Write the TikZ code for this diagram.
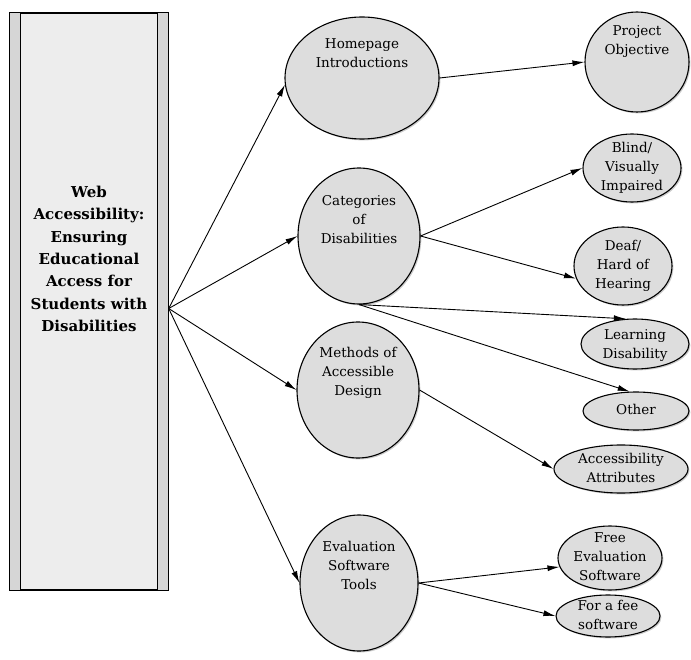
\documentclass[tikz,border=0pt]{standalone}
\usepackage{fontspec}
\setmainfont{DejaVu Serif}
\usetikzlibrary{shapes.geometric, arrows.meta, shadows, calc}

\begin{document}
\begin{tikzpicture}[x=1pt, y=-1pt,
    bubble/.style={ellipse, draw, line width=1.1pt, fill=gray!27, inner sep=0pt,
        drop shadow={shadow xshift=1.4pt, shadow yshift=-1.4pt, fill=gray!80}},
    bubbletext/.style={align=center, inner sep=0pt, font=\fontsize{13.5}{19}\selectfont},
    titlebox/.style={rectangle, draw, line width=1.4pt, fill=gray!14, inner sep=0pt,
        minimum width=158pt, minimum height=577pt,
        drop shadow={shadow xshift=1.3pt, shadow yshift=-1.3pt, fill=gray!80}},
    titletext/.style={align=center, inner sep=0pt, font=\fontsize{15}{22.3}\selectfont\bfseries},
    link/.style={line width=0.9pt, -{Latex[length=12pt, width=6pt]}}]

\useasboundingbox (0,0) rectangle (691,660);

% Bubble macro
% Arguments: name, x, y, width, height, text shift, text
\def\bubble#1#2#3#4#5#6#7{
    \node[bubble, minimum width=#4pt, minimum height=#5pt] (#1) at (#2,#3) {};
    \node[bubbletext] (#1-t) at ([yshift=#6pt]#1.center) {#7};
}

% Title column
\node[titlebox] (box) at (89,301.5) {};
\filldraw[fill=gray!32, line width=1.4pt] (box.north west) rectangle ([xshift=11pt]box.south west);
\filldraw[fill=gray!32, line width=1.4pt] ([xshift=-11pt]box.north east) rectangle (box.south east);
\node[titletext] (title) at ([yshift=42.5pt]box.center)
    {Web\\Accessibility:\\Ensuring\\Educational\\Access for\\Students with\\Disabilities};
\coordinate (hub) at ([yshift=-7pt]box.east);

% Middle column
\bubble{home}{362}{78}{154}{122}{25}{Homepage\\Introductions}
\bubble{cat}{359}{236}{122}{136}{16}{Categories\\of\\Disabilities}
\bubble{meth}{358}{390}{122}{136}{17}{Methods of\\Accessible\\Design}
\bubble{eval}{359}{583}{118}{136}{18}{Evaluation\\Software\\Tools}

% Right column
\bubble{proj}{637}{62}{104}{100}{20}{Project\\Objective}
\bubble{blind}{632}{168}{98}{68}{0}{Blind/\\Visually\\Impaired}
\bubble{deaf}{623}{266}{98}{78}{0}{Deaf/\\Hard of\\Hearing}
\bubble{learn}{635}{344}{108}{50}{-2}{Learning\\Disability}
\bubble{other}{636}{411}{106}{38}{2}{Other}
\bubble{acc}{621}{469}{134}{48}{1}{Accessibility\\Attributes}
\bubble{free}{610}{558}{104}{64}{1}{Free\\Evaluation\\Software}
\bubble{fee}{608}{616}{104}{42}{1}{For a fee\\software}

% Connectors
\draw[link] (hub) -- (home.185);
\draw[link] (hub) -- (cat.west);
\draw[link] (hub) -- (meth.west);
\draw[link] (hub) -- (eval.west);

\draw[link] (home.east) -- (proj.west);
\draw[link] (cat.east) -- (blind.west);
\draw[link] (cat.east) -- (deaf.195);
\draw[link] (cat.south) -- (learn.110);
\draw[link] (cat.south) -- (other.108);
\draw[link] (meth.east) -- (acc.west);
\draw[link] (eval.east) -- (free.190);
\draw[link] (eval.east) -- (fee.west);

\end{tikzpicture}
\end{document}
